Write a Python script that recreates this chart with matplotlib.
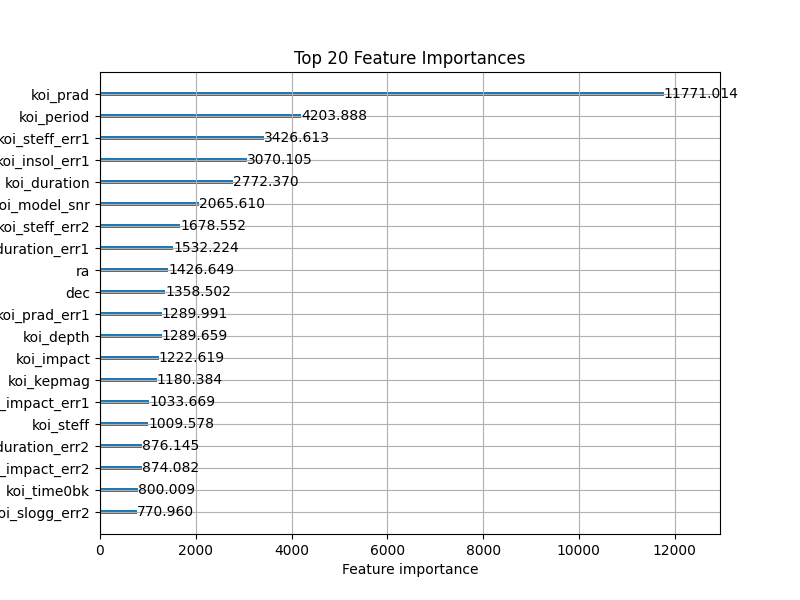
import matplotlib
matplotlib.use("Agg")
import matplotlib.pyplot as plt

features = ["koi_prad", "koi_period", "koi_steff_err1", "koi_insol_err1", "koi_duration",
            "koi_model_snr", "koi_steff_err2", "koi_duration_err1", "ra", "dec",
            "koi_prad_err1", "koi_depth", "koi_impact", "koi_kepmag", "koi_impact_err1",
            "koi_steff", "koi_duration_err2", "koi_impact_err2", "koi_time0bk", "koi_slogg_err2"]
importances = [11771.014, 4203.888, 3426.613, 3070.105, 2772.370,
               2065.610, 1678.552, 1532.224, 1426.649, 1358.502,
               1289.991, 1289.659, 1222.619, 1180.384, 1033.669,
               1009.578, 876.145, 874.082, 800.009, 770.960]

labels = features[::-1]
values = importances[::-1]

fig, ax = plt.subplots(figsize=(8, 6), dpi=100)
ylocs = list(range(len(values)))
ax.barh(ylocs, values, align="center", height=0.2)
for x, y in zip(values, ylocs):
    ax.text(x + 1, y, f"{x:.3f}", va="center")
ax.set_yticks(ylocs)
ax.set_yticklabels(labels)
ax.set_xlim(0, max(values) * 1.1)
ax.set_ylim(-1, len(values))
ax.set_title("Top 20 Feature Importances")
ax.set_xlabel("Feature importance")
ax.set_ylabel("Features")
ax.grid(True)
fig.savefig("out.png")
